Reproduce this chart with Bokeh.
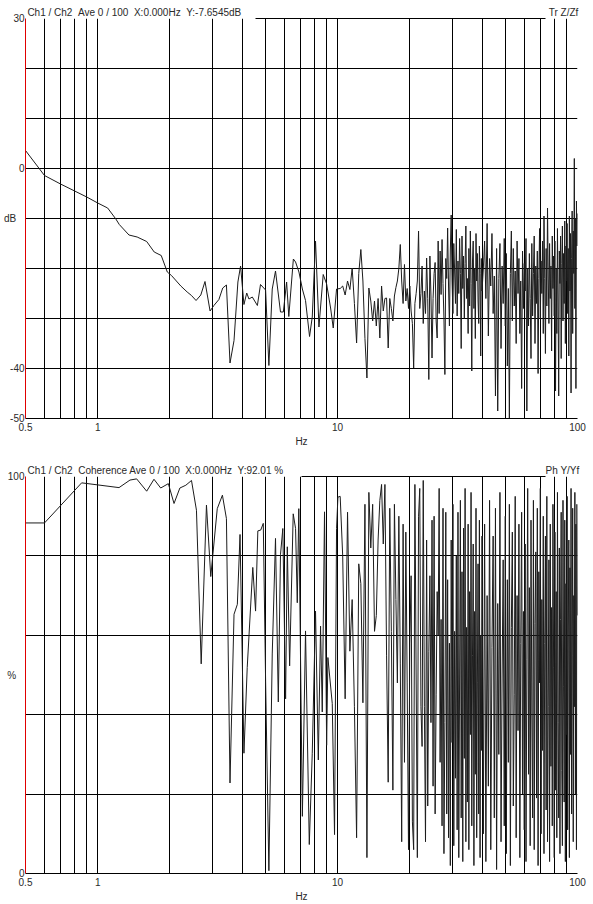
import numpy as np
from bokeh.plotting import figure
from bokeh.models import Range1d, FixedTicker, LogAxis, BasicTickFormatter
from bokeh.layouts import column
from bokeh.embed import file_html
from bokeh.resources import INLINE

# ---------------- data ----------------
# transfer function (dB), low-frequency vertices
tf_low_freq = [0.5, 0.6, 0.7, 0.9, 1.0, 1.1, 1.19, 1.23, 1.35, 1.46, 1.6, 1.72, 1.84, 1.95, 2.03,
               2.22, 2.36, 2.46, 2.57, 2.69, 2.8, 2.94, 3.05, 3.2, 3.32, 3.44, 3.56, 3.7, 3.84, 3.94,
               4.07, 4.18, 4.27, 4.41, 4.63, 4.77, 5.01, 5.17, 5.34, 5.51, 5.78, 5.94, 6.13, 6.26,
               6.54, 6.68, 6.9, 7.13, 7.35, 7.64, 7.84, 8.09, 8.36, 8.71, 9.0, 9.35, 9.59, 9.9]
tf_low_db = [3.6, -1.4, -3.1, -5.7, -6.9, -7.9, -10.1, -11.2, -13.3, -13.7, -14.6, -16.7, -17.4, -20.7, -21.4,
             -23.5, -24.7, -25.4, -26.4, -25.3, -22.6, -28.5, -27.4, -26.2, -23.9, -23.3, -38.9, -34.4, -22.7, -19.5,
             -27.2, -24.9, -26.1, -25.7, -27.4, -23.2, -24.3, -39.4, -24.1, -20.5, -28.7, -28.7, -22.7, -29.6,
             -18.1, -18.7, -20.7, -24.1, -26.4, -33.6, -29.7, -14.5, -31.7, -21.2, -23.1, -27.9, -31.9, -24.1]

# FFT bins above 10 Hz (0.25 Hz bins to 40 Hz, 0.5 Hz bins to 100 Hz)
hi_freq_a = np.arange(41, 161) * 0.25
hi_freq_b = np.arange(81, 201) * 0.5

tf_db_10_20 = [-24.0, -23.5, -25.3, -22.5, -24.2, -19.9, -27.0, -34.9, -21.0, -16.2,
               -22.5, -34.0, -41.9, -23.9, -26.5, -30.5, -26.5, -31.5, -26.0, -33.9,
               -23.5, -28.5, -26.0, -25.9, -35.9, -26.0, -28.0, -30.5, -25.5, -23.8,
               -22.5, -20.0, -15.2, -22.5, -27.0, -19.2, -26.5, -24.0, -28.0, -23.5]
tf_db_20_40 = [-28.5, -31.0, -39.9, -27.0, -25.0, -22.5, -12.5, -28.0, -25.0, -19.5,
               -31.0, -24.5, -29.0, -17.9, -26.0, -42.2, -17.5, -25.5, -37.9, -26.0,
               -21.0, -18.8, -30.5, -33.9, -14.5, -29.0, -16.5, -25.2, -14.2, -23.0,
               -30.0, -41.2, -18.0, -22.0, -11.9, -23.5, -31.5, -16.5, -9.3, -22.5,
               -29.0, -15.0, -20.5, -27.0, -12.2, -29.5, -18.5, -25.0, -14.0, -21.0,
               -36.0, -13.5, -24.0, -17.5, -30.0, -19.0, -11.5, -26.0, -22.0, -33.0,
               -16.0, -27.5, -12.5, -23.0, -40.5, -18.5, -14.5, -28.0, -20.0, -34.0,
               -13.0, -22.5, -17.0, -26.5, -31.0, -15.5, -21.0, -37.5, -18.0, -24.5]
tf_db_40_100 = [-20.0, -14.5, -26.0, -11.0, -33.5, -18.0, -23.5, -13.0, -29.0, -21.5,
                -45.5, -16.0, -48.5, -22.0, -15.0, -36.0, -19.5, -27.0, -14.0, -31.5,
                -17.0, -39.5, -24.0, -50.0, -21.0, -12.5, -30.5, -16.0, -27.5, -20.5,
                -35.0, -14.5, -25.0, -18.0, -33.0, -22.5, -44.0, -16.5, -28.0, -19.0,
                -24.5, -14.0, -48.5, -20.0, -31.5, -17.0, -26.0, -38.0, -15.0, -29.5,
                -21.0, -13.5, -35.0, -19.5, -27.0, -16.5, -41.0, -22.0, -12.0, -30.0,
                -18.5, -25.0, -14.5, -33.0, -9.5, -22.0, -37.0, -16.0, -27.5, -7.9,
                -21.5, -31.0, -15.0, -26.0, -19.5, -36.5, -13.5, -24.0, -17.5, -29.5,
                -14.5, -44.5, -20.0, -33.0, -12.0, -26.5, -45.5, -16.5, -23.0, -13.5,
                -38.0, -19.0, -11.5, -30.5, -17.0, -27.0, -10.5, -35.0, -15.5, -22.5,
                -11.0, -29.0, -16.0, -37.5, -9.5, -24.5, -13.0, -44.9, -18.0, -8.5,
                -33.0, -12.5, -21.0, 2.0, -28.0, -10.0, -44.0, -6.5, -15.5, -9.0]

# coherence (%), low-frequency vertices
coh_low_freq = [0.5, 0.6, 0.857, 1.227, 1.363, 1.453, 1.6, 1.716, 1.83, 1.97, 2.08, 2.2, 2.33, 2.46,
                2.58, 2.7, 2.84, 2.96, 3.15, 3.31, 3.44, 3.56, 3.7, 3.82, 3.92, 4.07, 4.2, 4.43, 4.55,
                4.65, 4.78, 4.9, 5.01, 5.17, 5.34, 5.51, 5.66, 5.78, 5.91, 6.07, 6.17, 6.31, 6.53,
                6.68, 6.79, 6.89, 7.13, 7.35, 7.62, 7.84, 8.09, 8.31, 8.49, 8.63, 8.82, 9.0, 9.11,
                9.5, 9.71, 9.9, 10.03]
coh_low_pct = [88.3, 88.3, 98.4, 97.2, 99.1, 99.4, 96.3, 99.3, 97.1, 98.2, 93.2, 97.1, 97.8, 99.0,
               91.5, 52.8, 92.8, 74.8, 91.9, 95.3, 89.4, 22.8, 65.3, 67.8, 85.4, 30.3, 51.9, 77.1, 66.1,
               86.3, 86.5, 88.2, 48.6, 0.7, 55.3, 84.4, 43.2, 80.3, 86.9, 44.0, 82.3, 52.3, 90.6,
               86.9, 68.2, 91.9, 14.4, 61.1, 7.3, 30.3, 66.1, 28.6, 62.3, 40.7, 91.1, 32.3, 54.4,
               42.8, 9.8, 86.9, 94.8]
coh_pct_10_20 = [95, 80, 44, 91, 56, 69, 42, 9, 78, 73, 43, 93, 4, 96, 82, 93, 61, 65, 84, 94,
                 98, 83, 98, 55, 23, 92, 61, 21, 93, 69, 48, 90, 53, 8, 88, 28, 86, 48, 6, 58]
coh_pct_20_40 = [75, 13, 6, 98, 50, 4, 90, 97, 42, 32, 99, 42, 8, 84, 17, 56, 75, 38, 89, 22,
                 90, 15, 45, 71, 60, 97, 28, 64, 12, 92, 5, 38, 91, 15, 74, 9, 58, 2, 84, 33,
                 93, 7, 61, 24, 80, 11, 91, 4, 50, 94, 14, 76, 3, 87, 29, 97, 8, 62, 18, 88,
                 6, 71, 35, 96, 12, 55, 83, 2, 66, 25, 92, 9, 48, 78, 15, 89, 4, 60, 31, 85]
coh_pct_40_100 = [10, 88, 3, 70, 22, 94, 6, 57, 85, 14, 92, 1, 68, 30, 96, 8, 50, 79, 12, 90,
                  5, 74, 28, 93, 2, 62, 86, 17, 45, 95, 9, 70, 36, 88, 4, 58, 91, 20, 66, 11,
                  83, 3, 54, 97, 25, 72, 7, 89, 40, 14, 94, 6, 63, 81, 19, 92, 2, 76, 48, 97,
                  10, 69, 31, 90, 5, 58, 85, 16, 95, 8, 42, 79, 3, 88, 27, 67, 12, 93, 52, 4,
                  86, 21, 71, 9, 96, 38, 14, 82, 5, 64, 91, 26, 7, 94, 47, 18, 89, 3, 73, 35,
                  95, 11, 60, 84, 4, 77, 30, 97, 15, 55, 92, 8, 70, 42, 96, 20, 88, 6, 93, 65]

x_grid_ticks = [0.6, 0.7, 0.8, 0.9, 1, 2, 3, 4, 5, 6, 7, 8, 9,
                10, 20, 30, 40, 50, 60, 70, 80, 90, 100]
x_label_ticks = [0.5, 1, 10, 100]

tf_y_labels = {30: "30", 0: "0", -10: "dB\u00a0\u00a0\u00a0", -40: "-40", -50: "-50"}
coh_y_labels = {100: "100", 50: "%\u00a0\u00a0\u00a0", 0: "0"}

tf_title = "Ch1 / Ch2 \u00a0Ave 0 / 100 \u00a0X:0.000Hz \u00a0Y:-7.6545dB"
tf_tag = "Tr Z/Zf"
coh_title = "Ch1 / Ch2 \u00a0Coherence Ave 0 / 100 \u00a0X:0.000Hz \u00a0Y:92.01 %"
coh_tag = "Ph Y/Yf"

tf_freq = list(tf_low_freq) + list(hi_freq_a) + list(hi_freq_b)
tf_vals = tf_low_db + tf_db_10_20 + tf_db_20_40 + tf_db_40_100
coh_freq = list(coh_low_freq) + list(hi_freq_a) + list(hi_freq_b)
coh_vals = coh_low_pct + coh_pct_10_20 + coh_pct_20_40 + coh_pct_40_100

FONT = "Liberation Sans"
TXT = "#2a2a2a"


def style_text(ax):
    ax.major_label_text_font = FONT
    ax.major_label_text_font_size = "10px"
    ax.major_label_text_color = TXT
    ax.axis_label_text_font = FONT
    ax.axis_label_text_font_size = "10px"
    ax.axis_label_text_font_style = "normal"
    ax.axis_label_text_color = TXT
    ax.major_tick_line_color = None
    ax.minor_tick_line_color = None
    ax.major_tick_out = 0
    ax.major_tick_in = 0
    ax.minor_tick_out = 0
    ax.minor_tick_in = 0


def panel(freq, vals, yr, ygrid, ylabels, title, tag,
          title_pos, tag_pos, line_bounds, top, bottom):
    W, H = 593, 452
    p = figure(width=W, height=H, x_axis_type="log",
               x_range=Range1d(0.5, 100), y_range=Range1d(*yr),
               output_backend="svg", toolbar_location=None,
               min_border_left=24, min_border_right=16,
               min_border_top=top, min_border_bottom=bottom)
    p.outline_line_color = None
    p.background_fill_color = "white"
    p.border_fill_color = "white"

    p.xgrid.ticker = FixedTicker(ticks=x_grid_ticks)
    p.ygrid.ticker = FixedTicker(ticks=ygrid)
    for g in (p.xgrid, p.ygrid):
        g.grid_line_color = "black"
        g.grid_line_width = 1
        g.minor_grid_line_color = None

    p.line(freq, vals, line_color="#1c1c1c", line_width=1)

    xa = p.xaxis[0]
    xa.ticker = FixedTicker(ticks=x_label_ticks)
    xa.formatter = BasicTickFormatter()
    xa.axis_line_color = "black"
    style_text(xa)
    xa.major_label_standoff = 4
    xa.axis_label = "Hz"
    xa.axis_label_standoff = 2

    ya = p.yaxis[0]
    ya.ticker = FixedTicker(ticks=list(ylabels.keys()))
    ya.major_label_overrides = ylabels
    ya.axis_line_color = "#e00000"
    style_text(ya)
    ya.major_label_standoff = 1

    # header line: titles drawn as labels of a top axis, the frame's top
    # border drawn between them
    ta = LogAxis(ticker=FixedTicker(ticks=[title_pos, tag_pos]),
                 major_label_overrides={title_pos: title, tag_pos: tag},
                 bounds=line_bounds, axis_line_color="black")
    style_text(ta)
    ta.major_label_standoff = 1
    p.add_layout(ta, "above")
    return p


p1 = panel(tf_freq, tf_vals, (-50, 30), [-40, -30, -20, -10, 0, 10, 20],
           tf_y_labels, tf_title, tf_tag,
           1.421, 87.45, (4.53, 73.6), 18, 34)
p2 = panel(coh_freq, coh_vals, (0, 100), [20, 40, 60, 80],
           coh_y_labels, coh_title, coh_tag,
           1.744, 86.6, (7.04, 73.6), 24, 28)

layout = column(p1, p2, spacing=0)
open("out.html", "w").write(file_html(layout, INLINE))
